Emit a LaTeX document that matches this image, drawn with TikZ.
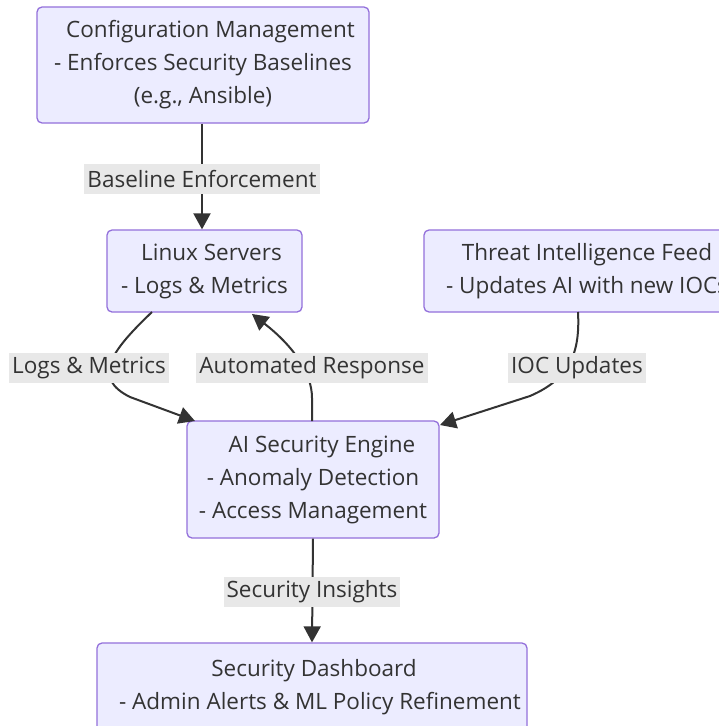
\documentclass[tikz,border=0pt]{standalone}
\usepackage{fontspec}
\setmainfont{Open Sans}
\usetikzlibrary{arrows.meta}
\definecolor{boxfill}{HTML}{ECECFF}
\definecolor{boxline}{HTML}{9370DB}
\definecolor{txt}{HTML}{333333}
\definecolor{lblbg}{HTML}{E8E8E8}
\tikzset{
  box/.style={draw=boxline, fill=boxfill, line width=1.3pt, rounded corners=5pt,
    text=txt, align=center, font=\fontsize{22.5}{33}\selectfont, inner sep=0pt},
  lbl/.style={fill=lblbg, text=txt, font=\fontsize{22.5}{27}\selectfont,
    inner xsep=3pt, inner ysep=0pt, minimum height=30pt},
  conn/.style={draw=txt, line width=2pt, -{Triangle[length=16pt,width=17pt]}},
}
\begin{document}
\begin{tikzpicture}[x=1pt,y=-1pt]
\useasboundingbox (0,0) rectangle (719,726);
\clip (0,0) rectangle (719,726);
\fill[white] (0,0) rectangle (719,726);

\node[box, minimum width=332pt, minimum height=116pt] (cfg) at (203,65)
  {\hspace*{15pt}Configuration Management\\- Enforces Security Baselines\\(e.g., Ansible)};
\node[box, minimum width=195pt, minimum height=82pt] (linux) at (204.5,271)
  {\hspace*{14pt}Linux Servers\\- Logs \& Metrics};
\node[box, minimum width=326pt, minimum height=82pt] (threat) at (587,271)
  {Threat Intelligence Feed\\- Updates AI with new IOCs};
\node[box, minimum width=252pt, minimum height=117pt] (ai) at (313,479.5)
  {\hspace*{18pt}AI Security Engine\\- Anomaly Detection\\- Access Management};
\node[box, minimum width=430pt, minimum height=88pt] (dash) at (312,687)
  {\hspace*{4pt}Security Dashboard\\\hspace*{16pt}- Admin Alerts \& ML Policy Refinement};

\coordinate (l1) at (152,312);
\coordinate (l2) at (195,421);
\coordinate (a1) at (312,421);
\coordinate (a2) at (252,314);
\coordinate (t1) at (578,312);
\coordinate (t2) at (440,425);

\draw[conn] (cfg.south -| 202,0) -- (linux.north -| 202,0);
\draw[conn] (l1) .. controls (110,352) and (92,378) .. (130,397) -- (l2);
\draw[conn] (a1) -- (312,398) .. controls (312,372) and (292,345) .. (a2);
\draw[conn] (t1) .. controls (580,350) and (572,378) .. (530,396) -- (t2);
\draw[conn] (ai.south) -- (dash.north);

\node[lbl] (e1) at (202,179) {Baseline Enforcement};
\node[lbl] (e2) at (89,368) {Logs \& Metrics};
\node[lbl] (e3) at (312,368) {Automated Response};
\node[lbl] (e4) at (577,368) {IOC Updates};
\node[lbl] (e5) at (312,592) {Security Insights};
\end{tikzpicture}
\end{document}
